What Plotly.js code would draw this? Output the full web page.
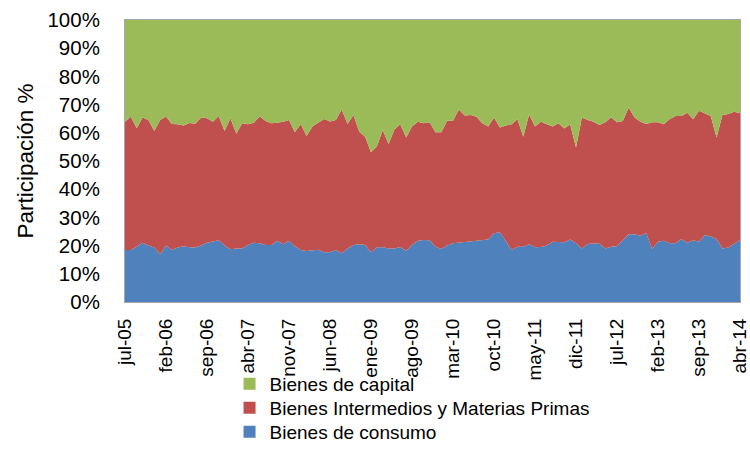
<!DOCTYPE html>
<html>
<head>
<meta charset="utf-8">
<script src="https://cdn.plot.ly/plotly-3.0.1.min.js"></script>
<style>html,body{margin:0;padding:0;background:#fff;}#chart{width:750px;height:462px;}</style>
</head>
<body>
<div id="chart"></div>
<script>
// Month abbreviations (Spanish) and period covered: jul-2005 .. abr-2014
const monthNames = ["ene","feb","mar","abr","may","jun","jul","ago","sep","oct","nov","dic"];
const startYear = 2005, startMonth = 6, nMonths = 106;

// Participación % por tipo de bien (lectura del gráfico)
const consumo = [18.4,18.4,19.6,21.0,20.0,19.3,16.9,20.0,18.4,19.3,19.8,19.4,19.3,20.0,21.0,21.4,21.9,20.0,18.7,19.0,
  19.0,20.2,21.0,20.8,20.2,20.2,21.7,20.5,21.7,19.8,18.4,18.1,18.2,18.5,17.6,17.6,18.4,17.3,19.0,20.2,
  20.5,20.2,17.6,19.4,19.4,19.0,19.0,19.5,18.2,20.2,21.7,22.0,21.9,19.6,18.8,20.0,20.8,21.0,21.2,21.5,
  21.6,21.9,22.2,24.4,24.7,21.6,18.4,19.6,19.6,20.5,19.4,19.5,20.0,21.4,21.4,21.2,22.2,20.8,19.0,20.6,
  20.8,20.7,19.0,19.6,19.8,22.0,24.0,24.0,23.5,24.5,18.8,21.4,21.7,20.8,20.8,22.3,21.0,21.9,21.4,23.8,
  23.2,22.3,19.0,19.3,20.8,22.0];
const intermedios = [45.5,47.3,42.0,44.4,44.5,41.3,47.6,45.8,44.7,43.7,42.8,44.1,43.9,45.4,44.2,42.5,44.1,40.6,46.5,40.7,
  44.4,42.8,42.6,45.0,44.0,43.2,41.9,43.4,42.8,40.4,44.7,40.8,44.0,45.2,47.3,46.4,46.1,51.0,44.1,46.1,
  39.9,38.4,35.5,35.7,41.6,37.0,42.2,43.5,40.1,42.0,42.2,41.4,41.8,40.6,41.4,44.3,43.5,47.3,44.9,44.8,
  44.1,41.5,40.0,41.0,37.2,41.0,44.6,45.2,39.0,46.1,42.8,44.4,43.1,40.8,42.0,40.3,40.8,34.0,46.4,43.9,
  43.1,42.1,44.7,45.9,43.9,42.2,45.0,41.4,40.4,38.6,44.9,42.3,41.3,44.1,45.2,43.7,46.1,42.9,46.4,43.1,
  42.8,36.0,47.3,47.4,46.7,44.9];
const capital = [36.1,34.3,38.4,34.6,35.5,39.4,35.5,34.2,36.9,37.0,37.4,36.5,36.8,34.6,34.8,36.1,34.0,39.4,34.8,40.3,
  36.6,37.0,36.4,34.2,35.8,36.6,36.4,36.1,35.5,39.8,36.9,41.1,37.8,36.3,35.1,36.0,35.5,31.7,36.9,33.7,
  39.6,41.4,46.9,44.9,39.0,44.0,38.8,37.0,41.7,37.8,36.1,36.6,36.3,39.8,39.8,35.7,35.7,31.7,33.9,33.7,
  34.3,36.6,37.8,34.6,38.1,37.4,37.0,35.2,41.4,33.4,37.8,36.1,36.9,37.8,36.6,38.5,37.0,45.2,34.6,35.5,
  36.1,37.2,36.3,34.5,36.3,35.8,31.0,34.6,36.1,36.9,36.3,36.3,37.0,35.1,34.0,34.0,32.9,35.2,32.2,33.1,
  34.0,41.7,33.7,33.3,32.5,33.1];

const seriesNames = ["Bienes de consumo","Bienes Intermedios y Materias Primas","Bienes de capital"];
const yTickVals = [0,10,20,30,40,50,60,70,80,90,100];
const yTickText = ["0%","10%","20%","30%","40%","50%","60%","70%","80%","90%","100%"];

// Category labels
const categories = [];
for (let k = 0; k < nMonths; k++) {
  const m = (startMonth + k) % 12;
  const y = startYear + Math.floor((startMonth + k) / 12);
  categories.push(monthNames[m] + "-" + String(y % 100).padStart(2, "0"));
}
const tickCats = categories.filter((_, k) => k % 7 === 0);

const colors = ["#4F81BD","#C0504D","#9BBB59"];
const legendIds = ["legend3","legend2","legend"];   // consumo bottom, capital top
const legendY = [0.0650, 0.1169, 0.1689];
const font = "Liberation Sans, Arial, sans-serif";
const traces = [consumo, intermedios, capital].map((vals, j) => ({
  type: "scatter",
  mode: "lines",
  x: categories,
  y: vals,
  name: seriesNames[j],
  stackgroup: "one",
  line: {width: 0, color: colors[j]},
  fillcolor: colors[j],
  showlegend: false
}));
// legend entries with square swatches (zero-height bars, nothing drawn)
seriesNames.forEach((nm, j) => {
  traces.push({type: "bar", x: [categories[0]], y: [0], name: nm, legend: legendIds[j],
    marker: {color: colors[j], line: {width: 0}}, showlegend: true});
});

const layout = {
  width: 750, height: 462,
  margin: {l: 125, r: 10, t: 20, b: 160},
  paper_bgcolor: "#fff", plot_bgcolor: "#fff",
  font: {family: font, size: 20, color: "#000"},
  showlegend: true,
  barmode: "overlay",
  xaxis: {
    type: "category",
    range: [0, nMonths - 1],
    tickmode: "array", tickvals: tickCats, ticktext: tickCats,
    tickangle: -90,
    showgrid: false, zeroline: false,
    showline: true, linecolor: "#A6A6A6", linewidth: 1, mirror: true,
    ticks: "", ticklabelstandoff: 8,
    tickfont: {family: font, size: 19}
  },
  yaxis: {
    range: [0, 100],
    tickmode: "array", tickvals: yTickVals, ticktext: yTickText,
    showgrid: false, zeroline: false,
    showline: true, linecolor: "#A6A6A6", linewidth: 1, mirror: true,
    ticks: "", ticklabelstandoff: 20,
    tickfont: {family: font, size: 20.5},
    title: {text: "Participación %", font: {family: font, size: 22.5}, standoff: 7}
  }
};
legendIds.forEach((id, j) => {
  layout[id] = {
    orientation: "v",
    x: 0.17, xanchor: "left", xref: "paper",
    y: legendY[j], yanchor: "middle", yref: "container",
    bgcolor: "rgba(0,0,0,0)",
    borderwidth: 0,
    font: {family: font, size: 19, color: "#000"}
  };
});

Plotly.newPlot("chart", traces, layout, {displayModeBar: false, staticPlot: true});
</script>
</body>
</html>
